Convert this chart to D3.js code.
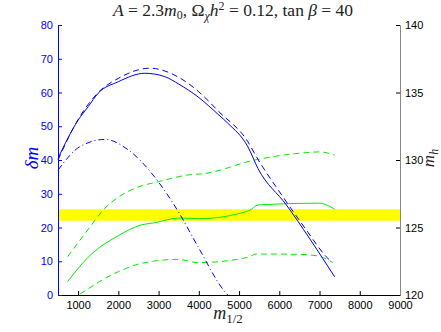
<!DOCTYPE html>
<html>
<head>
<meta charset="utf-8">
<script src="https://cdn.jsdelivr.net/npm/d3@7"></script>
<style>
  body { margin: 0; background: #fff; }
  .tick text { font-family: "Liberation Sans", Arial, sans-serif; font-size: 11px; }
  .math { font-family: "Liberation Serif", "DejaVu Serif", serif; }
</style>
</head>
<body>
<div id="chart"></div>
<script>
// x ticks
var xTicks = [1000, 2000, 3000, 4000, 5000, 6000, 7000, 8000, 9000];

// delta m curves (left axis)
var solidM   = [500, 1000, 1250, 1500, 2000, 2660, 3155, 3500, 3980, 4500, 4720, 5220, 5470, 6175, 6750, 7375];
var solidDm  = [40.5, 51.8, 55.8, 59.8, 63.2, 65.7, 64.7, 62.5, 58.7, 53.3, 50.9, 43.9, 37.5, 26.7, 16.8, 5.4];
var dashM    = [500, 1000, 1500, 2000, 2780, 3500, 4000, 4500, 5220, 5430, 6090, 6670, 7170, 7290];
var dashDm   = [40, 52, 60, 64.2, 67.2, 64.5, 60.2, 54.3, 45.4, 41, 29.1, 19.3, 11.3, 9.9];
var ddotM    = [500, 1050, 1670, 2245, 2990, 3490, 3980, 4645, 4720];
var ddotDm   = [37, 44, 46.1, 43, 33.6, 24.7, 14.3, 1, 0];

// higgs mass curves (right axis)
var mhM      = [740, 1250, 2000, 2580, 2900, 3500, 4000, 5250, 5470, 7000, 7375];
var mh       = [121.0, 122.8, 124.4, 125.2, 125.35, 125.7, 125.65, 126.25, 126.67, 126.8, 126.35];
var mhLowM   = [1050, 2000, 2580, 3490, 3980, 5220, 5430, 6500, 6960, 7330];
var mhLow    = [120.07, 121.73, 122.35, 122.64, 122.4, 122.79, 123.04, 123.01, 122.89, 122.4];
var mhHighM  = [740, 1250, 1625, 2410, 2990, 3730, 4150, 5390, 6500, 7000, 7375];
var mhHigh   = [122.84, 124.86, 126.3, 127.9, 128.39, 128.89, 129.0, 130.0, 130.5, 130.6, 130.37];

// measured higgs mass band
var mhBand = [125.5, 126.35];

var W = 441, H = 332;
var margin = {left: 58, right: 400, top: 25, bottom: 295};

var svg = d3.select("#chart").append("svg")
    .attr("width", W).attr("height", H);

var x = d3.scaleLinear().domain([500, 9000]).range([margin.left, margin.right]);
var yL = d3.scaleLinear().domain([0, 80]).range([margin.bottom, margin.top]);
var yR = d3.scaleLinear().domain([120, 140]).range([margin.bottom, margin.top]);

var blue = "#0000ff", green = "#00ee00";

// yellow band
svg.append("rect")
    .attr("x", x(500)).attr("width", x(9000) - x(500))
    .attr("y", yR(mhBand[1])).attr("height", yR(mhBand[0]) - yR(mhBand[1]))
    .attr("fill", "#ffff00");

function zip(a, b) { return a.map(function(d, i){ return [d, b[i]]; }); }

function drawLine(xs, ys, yScale, color, dash) {
    var line = d3.line()
        .x(function(d){ return x(d[0]); })
        .y(function(d){ return yScale(d[1]); })
        .curve(d3.curveMonotoneX);
    svg.append("path")
        .datum(zip(xs, ys))
        .attr("d", line)
        .attr("fill", "none")
        .attr("stroke", color)
        .attr("stroke-width", 1)
        .attr("stroke-dasharray", dash || null);
}

drawLine(mhM, mh, yR, green);
drawLine(mhLowM, mhLow, yR, green, "6,4");
drawLine(mhHighM, mhHigh, yR, green, "6,4");
drawLine(solidM, solidDm, yL, blue);
drawLine(dashM, dashDm, yL, blue, "6,4");
drawLine(ddotM, ddotDm, yL, blue, "6,3,1,3");

// axes
var gx = svg.append("g").attr("transform", "translate(0," + margin.bottom + ")")
    .call(d3.axisBottom(x).tickValues(xTicks).tickSize(-4).tickPadding(6).tickFormat(d3.format("d")));
gx.select(".domain").attr("stroke", "#000");
gx.selectAll(".tick line").attr("stroke", "#000");
gx.selectAll(".tick text").attr("fill", "#000");

var gl = svg.append("g").attr("transform", "translate(" + margin.left + ",0)")
    .call(d3.axisLeft(yL).ticks(8).tickSize(-4).tickPadding(5));
gl.select(".domain").attr("stroke", blue);
gl.selectAll(".tick line").attr("stroke", blue);
gl.selectAll(".tick text").attr("fill", blue);

var gr = svg.append("g").attr("transform", "translate(" + margin.right + ",0)")
    .call(d3.axisRight(yR).ticks(4).tickSize(-4).tickPadding(5));
gr.select(".domain").attr("stroke", "#888");
gr.selectAll(".tick line").attr("stroke", "#000");
gr.selectAll(".tick text").attr("fill", "#000");

// title
var title = svg.append("text").attr("class", "math")
    .attr("x", 233).attr("y", 16).attr("text-anchor", "middle")
    .attr("font-size", 17.5).attr("fill", "#222");
title.append("tspan").attr("font-style", "italic").text("A");
title.append("tspan").text(" = 2.3");
title.append("tspan").attr("font-style", "italic").text("m");
title.append("tspan").attr("font-size", 12).attr("dy", 3).text("0");
title.append("tspan").attr("dy", -3).text(", Ω");
title.append("tspan").attr("font-size", 12).attr("dy", 4).attr("font-style", "italic").text("χ");
title.append("tspan").attr("dy", -4).attr("font-style", "italic").text("h");
title.append("tspan").attr("font-size", 12).attr("dy", -6).text("2");
title.append("tspan").attr("dy", 6).text(" = 0.12, tan ");
title.append("tspan").attr("font-style", "italic").text("β");
title.append("tspan").text(" = 40");

// y label left
var yl = svg.append("text").attr("class", "math")
    .attr("transform", "translate(38,158) rotate(-90)")
    .attr("text-anchor", "middle").attr("font-size", 19).attr("fill", blue)
    .attr("font-style", "italic");
yl.text("δm");

// y label right
var yr = svg.append("text").attr("class", "math")
    .attr("transform", "translate(434,158) rotate(-90)")
    .attr("text-anchor", "middle").attr("font-size", 17).attr("fill", "#222");
yr.append("tspan").attr("font-style", "italic").text("m");
yr.append("tspan").attr("font-style", "italic").attr("font-size", 12).attr("dy", 4).text("h");

// x label
var xl = svg.append("text").attr("class", "math")
    .attr("x", 228).attr("y", 319).attr("text-anchor", "middle")
    .attr("font-size", 18).attr("fill", "#222");
xl.append("tspan").attr("font-style", "italic").text("m");
xl.append("tspan").attr("font-size", 13).attr("dy", 4).text("1/2");
</script>
</body>
</html>
